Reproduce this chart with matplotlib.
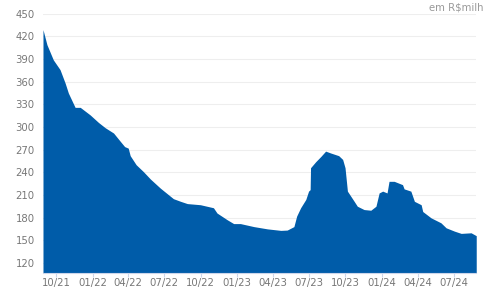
import matplotlib
matplotlib.use('Agg')
import matplotlib.pyplot as plt
import numpy as np
import pandas as pd

# valores (R$ milhões)
dates = ['2021-08-29', '2021-09-08', '2021-09-16', '2021-09-24', '2021-10-11',
         '2021-10-24', '2021-11-01', '2021-11-18', '2021-12-01', '2021-12-26',
         '2022-01-16', '2022-02-02', '2022-02-23', '2022-03-12', '2022-03-23',
         '2022-04-01', '2022-04-06', '2022-04-21', '2022-05-09', '2022-05-27',
         '2022-06-21', '2022-07-24', '2022-08-11', '2022-08-28', '2022-09-30',
         '2022-11-02', '2022-11-11', '2022-12-07', '2022-12-23', '2023-01-09',
         '2023-02-12', '2023-03-18', '2023-04-21', '2023-05-07', '2023-05-24',
         '2023-05-31', '2023-06-10', '2023-06-23', '2023-06-30', '2023-07-04',
         '2023-07-05', '2023-07-18', '2023-07-31', '2023-08-12', '2023-08-25',
         '2023-09-14', '2023-09-24', '2023-09-30', '2023-10-06', '2023-10-23',
         '2023-10-31', '2023-11-17', '2023-12-04', '2023-12-17', '2023-12-25',
         '2024-01-03', '2024-01-14', '2024-01-19', '2024-02-01', '2024-02-22',
         '2024-02-26', '2024-03-14', '2024-03-23', '2024-04-09', '2024-04-13',
         '2024-05-04', '2024-05-29', '2024-06-11', '2024-07-02', '2024-07-19',
         '2024-08-13', '2024-08-26']
values = [429, 409, 399, 389, 376,
          358, 345, 326, 326, 316,
          306, 299, 292, 281, 274,
          272, 262, 250, 241, 231,
          219, 205, 201.5, 198.5, 197,
          193, 186, 177, 172, 172,
          168, 165, 163, 163.4, 168,
          182, 193, 204, 215, 217,
          246, 254, 261, 268, 265.5,
          262, 257, 246, 215, 201.5,
          195, 190.6, 189.7, 195, 212.6,
          215, 212.6, 228, 228, 223.6,
          218, 215, 201.5, 197, 188,
          179.6, 173, 166.4, 162, 159,
          159.8, 156]
tick_dates = ['2021-10-01', '2022-01-01', '2022-04-01', '2022-07-01',
              '2022-10-01', '2023-01-01', '2023-04-01', '2023-07-01',
              '2023-10-01', '2024-01-01', '2024-04-01', '2024-07-01']
tick_labels = ['10/21', '01/22', '04/22', '07/22', '10/22', '01/23',
               '04/23', '07/23', '10/23', '01/24', '04/24', '07/24']
y_ticks = [120, 150, 180, 210, 240, 270, 300, 330, 360, 390, 420, 450]

x = pd.to_datetime(dates)
blue = '#005CA9'
grey = '#777777'

fig = plt.figure(figsize=(4.83, 2.87), dpi=100)
ax = fig.add_axes([0.089, 0.050, 0.897, 0.902])

ax.fill_between(x, values, 100, color=blue, lw=0)
ax.set_xlim(x[0], x[-1])
ax.set_ylim(107, 450)

ax.set_yticks(y_ticks)
ax.set_xticks(pd.to_datetime(tick_dates))
ax.set_xticklabels(tick_labels)
ax.grid(axis='y', color='#eeeeee', lw=0.8)
ax.set_axisbelow(True)
for s in ['top', 'right', 'left']:
    ax.spines[s].set_visible(False)
ax.spines['bottom'].set_color('#ccd6eb')
ax.tick_params(axis='y', length=0, labelsize=7.3, labelcolor=grey, pad=6)
ax.tick_params(axis='x', length=3, color='#ccd6eb', labelsize=7.3,
               labelcolor=grey, pad=0.5)

fig.text(0.889, 0.975, 'em R$milhões', fontsize=7.3, color='#999999',
         ha='left', va='center')

fig.savefig('out.png', dpi=100)
